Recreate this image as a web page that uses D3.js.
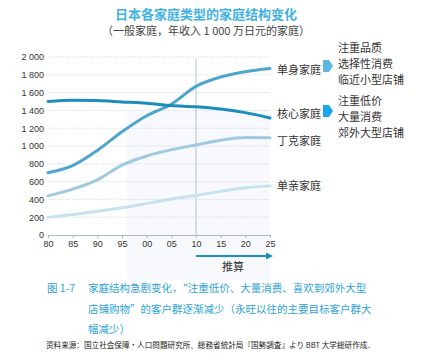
<!DOCTYPE html>
<html><head><meta charset="utf-8">
<script src="https://cdn.jsdelivr.net/npm/d3@7"></script>
<style>body{margin:0;background:#fff;}svg{display:block;font-family:"Noto Sans CJK SC","Noto Sans",sans-serif;}</style>
</head><body><div id="c"></div>
<script>
const years = [1980,1985,1990,1995,2000,2005,2010,2015,2020,2025];
const yearLabels = ["80","85","90","95","00","05","10","15","20","25"];
const yTicks = [0,200,400,600,800,1000,1200,1400,1600,1800,2000];
const yTickLabels = ["0","200","400","600","800","1 000","1 200","1 400","1 600","1 800","2 000"];
const seriesNames = ["单身家庭","核心家庭","丁克家庭","单亲家庭"];
const singleVals = [700,780,950,1160,1340,1470,1670,1775,1835,1870];
const nuclearVals = [1500,1515,1510,1495,1480,1455,1440,1415,1375,1315];
const dinkVals = [440,515,620,785,888,958,1012,1065,1095,1092];
const singleParentVals = [198,230,268,305,355,405,445,490,530,552];
const seriesColors = ["#4ea6cf","#1b8cbc","#9fc9df","#c7e2ef"];
const noteTop = ["注重品质","选择性消费","临近小型店铺"];
const noteBottom = ["注重低价","大量消费","郊外大型店铺"];

const W=427,H=357;
const svg=d3.select("#c").append("svg").attr("width",W).attr("height",H);
const x=d3.scaleLinear().domain([1980,2025]).range([48,270]);
const y=d3.scaleLinear().domain([0,2000]).range([235,57]);

// faint watermark area
svg.append("rect").attr("x",x(1996)).attr("y",y(1400)).attr("width",x(2025)-x(1996)).attr("height",y(0)-y(1400)+45).attr("fill","#f8f9fc");

// title
svg.append("text").attr("x",206).attr("y",19).attr("text-anchor","middle").attr("fill","#3fb2e2").attr("font-size",13).attr("font-weight","bold").text("日本各家庭类型的家庭结构变化");
svg.append("text").attr("x",206).attr("y",35).attr("text-anchor","middle").attr("fill","#444").attr("font-size",11).text("（一般家庭，年收入 1 000 万日元的家庭）");

// grid
svg.append("g").selectAll("line").data(yTicks.slice(1)).join("line")
 .attr("x1",x(1980)).attr("x2",x(2025)).attr("y1",d=>y(d)).attr("y2",d=>y(d))
 .attr("stroke","#c9d4dc").attr("stroke-width",0.8).attr("stroke-dasharray","1.5,1.5");

// y axis labels
const yAxis=d3.axisLeft(y).tickValues(yTicks).tickFormat((d,i)=>yTickLabels[i]).tickSize(0).tickPadding(4);
const ya=svg.append("g").attr("transform",`translate(${x(1980)},0)`).call(yAxis);
ya.select(".domain").remove();
ya.selectAll("text").attr("font-size",9).attr("fill","#333").attr("font-family","Liberation Sans, Arial, sans-serif");

// x axis
const xAxis=d3.axisBottom(x).tickValues(years).tickFormat((d,i)=>yearLabels[i]).tickSize(3).tickPadding(3);
const xa=svg.append("g").attr("transform",`translate(0,${y(0)})`).call(xAxis);
xa.select(".domain").attr("stroke","#aab8c4");
xa.selectAll(".tick line").attr("stroke","#aab8c4");
xa.selectAll("text").attr("font-size",9).attr("fill","#333").attr("font-family","Liberation Sans, Arial, sans-serif");

// vertical 2010 line
svg.append("line").attr("x1",x(2010)).attr("x2",x(2010)).attr("y1",59).attr("y2",y(0)).attr("stroke","#9cb8cc").attr("stroke-width",0.8);

// lines
const allVals=[singleVals,nuclearVals,dinkVals,singleParentVals];
const line=d3.line().x((d,i)=>x(years[i])).y(d=>y(d)).curve(d3.curveMonotoneX);
const order=[3,2,0,1];
order.forEach(k=>{
  svg.append("path").attr("d",line(allVals[k])).attr("fill","none").attr("stroke",seriesColors[k]).attr("stroke-width",3).attr("stroke-linecap","round");
});

// series labels
const labelY=[70,114,141,186];
seriesNames.forEach((n,k)=>{
  svg.append("text").attr("x",277).attr("y",labelY[k]+4).attr("font-size",11).attr("fill","#333").text(n);
});

// block arrows
function blockArrow(cx,cy,col){
  const p=[[cx,cy-6],[cx+6,cy-6],[cx+10,cy],[cx+6,cy+6],[cx,cy+6]];
  svg.append("polygon").attr("points",p.map(q=>q.join(",")).join(" ")).attr("fill",col);
}
blockArrow(323,66,"#5cb7e2");
blockArrow(323,111,"#19a7ec");

noteTop.forEach((t,i)=>svg.append("text").attr("x",338).attr("y",52+i*16).attr("font-size",11).attr("fill","#333").text(t));
noteBottom.forEach((t,i)=>svg.append("text").attr("x",338).attr("y",105+i*16).attr("font-size",11).attr("fill","#333").text(t));

// projection arrow
svg.append("line").attr("x1",x(2010)).attr("x2",x(2025)-2).attr("y1",256).attr("y2",256).attr("stroke","#1a8fbf").attr("stroke-width",2.2);
svg.append("polygon").attr("points",`${x(2025)+3},256 ${x(2025)-4},252.5 ${x(2025)-4},259.5`).attr("fill","#1a8fbf");
svg.append("text").attr("x",233).attr("y",271).attr("text-anchor","middle").attr("font-size",11).attr("fill","#333").text("推算");

// caption
const cap=svg.append("g").attr("fill","#2ea3d6").attr("font-size",10.5);
cap.append("text").attr("x",47).attr("y",292).text("图 1-7");
cap.append("text").attr("x",88).attr("y",292).text("家庭结构急剧变化，“注重低价、大量消费、喜欢到郊外大型");
cap.append("text").attr("x",88).attr("y",313).text("店铺购物”的客户群逐渐减少（永旺以往的主要目标客户群大");
cap.append("text").attr("x",88).attr("y",333).text("幅减少）");
svg.append("text").attr("x",46).attr("y",348).attr("font-size",7.6).attr("fill","#222").text("资料来源：国立社会保障・人口問題研究所、総務省統計局『国勢調査』より BBT 大学総研作成．");
</script></body></html>
